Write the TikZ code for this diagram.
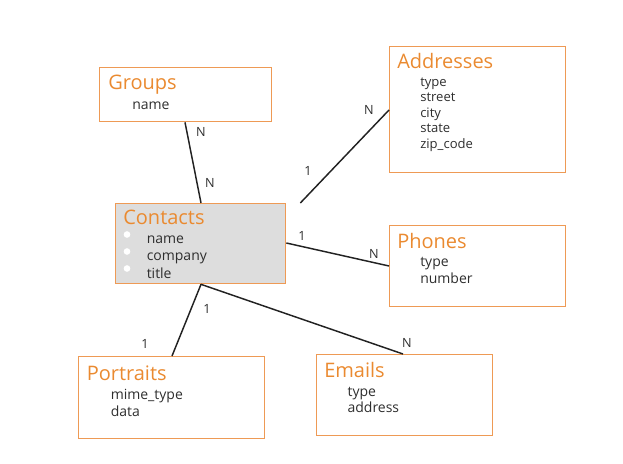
\documentclass[tikz,border=0pt]{standalone}
\usepackage{fontspec}
\setmainfont{Open Sans}
\usetikzlibrary{calc}
\definecolor{ttl}{HTML}{EA8A30}
\definecolor{brd}{HTML}{EE9A55}
\definecolor{txt}{HTML}{2E2E2E}
\definecolor{gfill}{HTML}{DDDDDD}
\definecolor{lnc}{HTML}{222222}
\tikzset{
  ent/.style={draw=brd, line width=1pt, inner sep=0pt},
  ttlt/.style={anchor=base west, inner sep=0pt, text=ttl, font=\fontsize{15}{15}\selectfont},
  itm/.style={anchor=base west, inner sep=0pt, text=txt, font=\fontsize{10.5}{10.5}\selectfont},
  itms/.style={anchor=base west, inner sep=0pt, text=txt, font=\fontsize{9.8}{9.8}\selectfont},
  card/.style={inner sep=0pt, text=txt, font=\fontsize{9.5}{9.5}\selectfont},
  rel/.style={draw=lnc, line width=1.1pt},
  bul/.style={circle, fill=white, inner sep=0pt, minimum size=5pt}
}
\begin{document}
\begin{tikzpicture}[x=0.75pt,y=-0.75pt]
\useasboundingbox (0,0) rectangle (623,463);
% boxes
\node[ent, anchor=north west, minimum width=129pt, minimum height=40.5pt] (groups) at (99,67) {};
\node[ent, anchor=north west, minimum width=132pt, minimum height=94.5pt] (addr) at (389,46) {};
\node[ent, fill=gfill, anchor=north west, minimum width=127.5pt, minimum height=60pt] (contacts) at (115,203) {};
\node[ent, anchor=north west, minimum width=132pt, minimum height=60.75pt] (phones) at (389,225) {};
\node[ent, anchor=north west, minimum width=139.5pt, minimum height=61.5pt] (portraits) at (78,356) {};
\node[ent, anchor=north west, minimum width=132pt, minimum height=60.75pt] (emails) at (316,354) {};
% texts
\node[ttlt] (tg) at (108,89.5) {Groups};
\node[itm] (g1) at (132,109.5) {name};

\node[ttlt] (ta) at (397,68.5) {Addresses};
\node[itms] (a1) at (420,86.5) {type};
\node[itms] (a2) at (420,102) {street};
\node[itms] (a3) at (420,117.5) {city};
\node[itms] (a4) at (420,132.8) {state};
\node[itms] (a5) at (420,148.2) {zip\_code};

\node[ttlt] (tc) at (123,224) {Contacts};
\node[itm] (c1) at (146.5,243.5) {name};
\node[itm] (c2) at (146.5,260.8) {company};
\node[itm] (c3) at (146.5,278.2) {title};
\node[bul] (b1) at (127,234.5) {};
\node[bul] (b2) at (127,251.5) {};
\node[bul] (b3) at (127,268.5) {};

\node[ttlt] (tp) at (397,248.2) {Phones};
\node[itm] (p1) at (420,266.5) {type};
\node[itm] (p2) at (420,283.2) {number};

\node[ttlt] (tpo) at (86.5,380.8) {Portraits};
\node[itm] (po1) at (110.5,399.8) {mime\_type};
\node[itm] (po2) at (110.5,416.5) {data};

\node[ttlt] (te) at (324,377.2) {Emails};
\node[itm] (e1) at (347.3,396.5) {type};
\node[itm] (e2) at (347.3,412.2) {address};
% connectors
\draw[rel] ($(groups.south west)+(86,0)$) -- ($(contacts.north west)+(86,0)$);
\coordinate (cstart) at ($(contacts.north east)+(14,0)$);
\draw[rel] (cstart) -- ($(addr.north west)+(0,64)$);
\draw[rel] ($(contacts.north east)+(0,40)$) -- ($(phones.north west)+(0,41)$);
\draw[rel] ($(contacts.south west)+(86,0)$) -- ($(portraits.north west)+(94,0)$);
\draw[rel] ($(contacts.south west)+(86,0)$) -- ($(emails.north west)+(87,0)$);
% cardinalities
\node[card] (l1) at (201,132) {N};
\node[card] (l2) at (210,183) {N};
\node[card] (l3) at (308,171) {1};
\node[card] (l4) at (369,110) {N};
\node[card] (l5) at (302,236) {1};
\node[card] (l6) at (374,254) {N};
\node[card] (l7) at (207,309) {1};
\node[card] (l8) at (145,344) {1};
\node[card] (l9) at (407,343) {N};
\end{tikzpicture}
\end{document}
